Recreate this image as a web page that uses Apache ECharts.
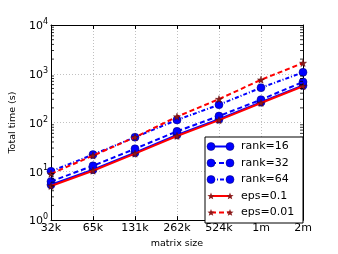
<!DOCTYPE html>
<html><head><meta charset="utf-8">
<script src="https://cdn.jsdelivr.net/npm/echarts@6/dist/echarts.min.js"></script>
<style>html,body{margin:0;padding:0;background:#fff}#c{width:338px;height:254px}</style>
</head><body><div id="c"></div>
<script>
var categories = ['32k','65k','131k','262k','524k','1m','2m'];
var rank16 = [5.3, 10.8, 24, 56, 117, 262, 575];
var rank32 = [6.2, 13, 29, 66, 136, 295, 680];
var rank64 = [10, 22, 50, 113, 232, 517, 1070];
var eps01 = [5.0, 10.3, 23, 53, 112, 252, 555];
var eps001 = [8.9, 21, 50, 132, 302, 754, 1660];
var seriesNames = ['rank=16','rank=32','rank=64','eps=0.1','eps=0.01'];
var minorTickValues = [];
[1,10,100,1000].forEach(function(d){ for (var m=2;m<=9;m++) minorTickValues.push(m*d); });

var FONT = 'DejaVu Sans';
var STAR = 'path://M50,0 L61,35 L98,35 L68,57 L79,91 L50,70 L21,91 L32,57 L2,35 L39,35 Z';
var styles = [
  {color:'#0000ff', type:'solid', symbol:'circle', mcolor:'#0000ff', size:8},
  {color:'#0000ff', type:[5,3], symbol:'circle', mcolor:'#0000ff', size:8},
  {color:'#0000ff', type:[4,2,1,2], symbol:'circle', mcolor:'#0000ff', size:8},
  {color:'#ff0000', type:'solid', symbol:STAR, mcolor:'#8b1a1a', size:7},
  {color:'#ff0000', type:[5,3], symbol:STAR, mcolor:'#8b1a1a', size:7}
];
var datasets = [rank16, rank32, rank64, eps01, eps001];

function starPoints(cx, cy, R){
  var pts = [], r = R*0.42;
  for (var k=0;k<10;k++){
    var a = -Math.PI/2 + k*Math.PI/5, rr = (k%2===0)?R:r;
    pts.push([cx + rr*Math.cos(a), cy + rr*Math.sin(a)]);
  }
  return pts;
}

var chart = echarts.init(document.getElementById('c'), null, {renderer:'canvas'});
var series = datasets.map(function(d, i){
  var s = styles[i];
  return {
    type:'line', name: seriesNames[i], data: d, xAxisIndex:0, yAxisIndex:0,
    symbol: s.symbol, symbolSize: s.size, showSymbol:true,
    lineStyle:{color:s.color, width:2, type:s.type},
    itemStyle:{color:s.mcolor, borderColor: i<3 ? '#00006a' : '#5a0000', borderWidth:0.5},
    z: 3+i, silent:true
  };
});
series.push({
  type:'scatter', data: minorTickValues.map(function(v){return [0, v];}),
  symbol:'rect', symbolSize:[3,1], symbolOffset:[1.5,0],
  itemStyle:{color:'#000'}, silent:true, z:10
});
series.push({
  type:'scatter', data: minorTickValues.map(function(v){return [6, v];}),
  symbol:'rect', symbolSize:[3,1], symbolOffset:[-1.5,0],
  itemStyle:{color:'#000'}, silent:true, z:10
});

// legend via graphic
var lg = [];
var bx = 205, by = 137, bw = 98, bh = 86;
lg.push({type:'rect', shape:{x:bx, y:by, width:bw, height:bh}, style:{fill:'#fff', stroke:'#000', lineWidth:1}, z:100});
seriesNames.forEach(function(n, i){
  var s = styles[i];
  var y = 146.5 + i*16.5;
  lg.push({type:'line', shape:{x1:211, y1:y, x2:230, y2:y},
    style:{stroke:s.color, lineWidth:2, lineDash: s.type==='solid'?null:s.type}, z:101});
  [211,230].forEach(function(x){
    if (i<3) {
      lg.push({type:'circle', shape:{cx:x, cy:y, r:4}, style:{fill:s.mcolor, stroke:'#00006a', lineWidth:0.5}, z:102});
    } else {
      lg.push({type:'polygon', shape:{points: starPoints(x, y+0.3, 3.8)}, style:{fill:s.mcolor}, z:102});
    }
  });
  lg.push({type:'text', x:241, y:y, style:{text:n, fill:'#000', font:'11px "'+FONT+'"', textVerticalAlign:'middle', textAlign:'left'}, z:102});
});

chart.setOption({
  animation:false,
  backgroundColor:'#fff',
  grid:{left:42, right:35, top:25, bottom:27, containLabel:false},
  xAxis:[{
    type:'category', data:categories, boundaryGap:false, position:'bottom',
    name:'matrix size', nameLocation:'middle', nameGap:17,
    nameTextStyle:{fontFamily:FONT, fontSize:9.5, color:'#000'},
    axisLine:{lineStyle:{color:'#000', width:1}},
    axisTick:{inside:true, length:4, lineStyle:{color:'#000'}},
    axisLabel:{fontFamily:FONT, fontSize:11, color:'#000', margin:3},
    splitLine:{show:true, lineStyle:{color:'#c0c0c0', type:[1,2], width:1}}
  },{
    type:'category', data:categories, boundaryGap:false, position:'top',
    axisLine:{lineStyle:{color:'#000', width:1}},
    axisTick:{inside:true, length:4, lineStyle:{color:'#000'}},
    axisLabel:{show:false}, splitLine:{show:false}
  }],
  yAxis:[{
    type:'log', logBase:10, min:1, max:10000, position:'left',
    name:'Total time (s)', nameLocation:'middle', nameGap:25,
    nameTextStyle:{fontFamily:FONT, fontSize:9.5, color:'#000'},
    axisLine:{show:true, lineStyle:{color:'#000', width:1}},
    axisTick:{inside:true, length:4, lineStyle:{color:'#000'}},
    axisLabel:{fontFamily:FONT, color:'#000', margin:3,
      formatter:function(v){ return '{b|10}{s|' + Math.round(Math.log10(v)) + '}'; },
      rich:{b:{fontSize:11, fontFamily:FONT, color:'#000', verticalAlign:'bottom'},
            s:{fontSize:8, fontFamily:FONT, color:'#000', verticalAlign:'bottom', padding:[0,0,6,0]}}},
    splitLine:{show:true, lineStyle:{color:'#c0c0c0', type:[1,2], width:1}}
  },{
    type:'log', logBase:10, min:1, max:10000, position:'right',
    axisLine:{show:true, lineStyle:{color:'#000', width:1}},
    axisTick:{inside:true, length:4, lineStyle:{color:'#000'}},
    axisLabel:{show:false}, splitLine:{show:false}
  }],
  series: series,
  graphic: lg
});
</script></body></html>
